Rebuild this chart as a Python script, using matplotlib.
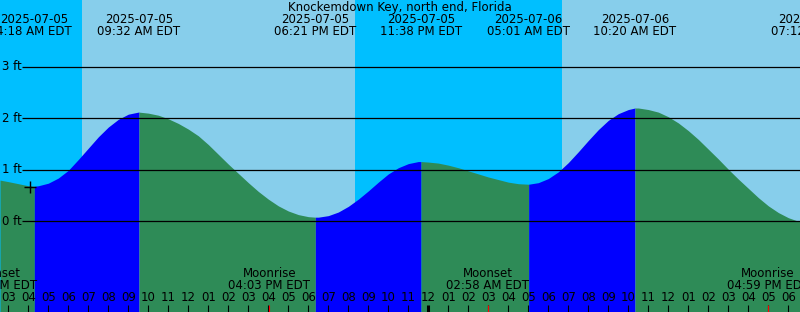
import matplotlib
matplotlib.use("Agg")
import matplotlib.pyplot as plt
import pandas as pd
import numpy as np

# ---------------- data ----------------
title = "Knockemdown Key, north end, Florida"

event_times = ["2025-07-05 04:18", "2025-07-05 09:32", "2025-07-05 18:21",
               "2025-07-05 23:38", "2025-07-06 05:01", "2025-07-06 10:20",
               "2025-07-06 19:12"]
event_heights = [0.68, 2.12, 0.08, 1.16, 0.72, 2.20, -0.03]
event_labels_time = ["4:18 AM EDT", "09:32 AM EDT", "06:21 PM EDT", "11:38 PM EDT",
                     "05:01 AM EDT", "10:20 AM EDT", "07:12 PM EDT"]
event_is_high = [False, True, False, True, False, True, False]

# water level every 30 minutes, 2025-07-05 03:00 .. 2025-07-06 18:00
curve_start = "2025-07-05 03:00"
curve_end = "2025-07-06 18:00"
curve_heights = [0.77, 0.73, 0.69, 0.69, 0.74, 0.84, 0.99, 1.20, 1.42, 1.64,
                 1.83, 1.98, 2.08, 2.12, 2.10, 2.06, 1.99, 1.90, 1.79, 1.66,
                 1.49, 1.30, 1.11, 0.93, 0.75, 0.58, 0.43, 0.30, 0.20, 0.13,
                 0.09, 0.08, 0.11, 0.18, 0.29, 0.43, 0.59, 0.76, 0.92, 1.04,
                 1.12, 1.16, 1.15, 1.13, 1.09, 1.04, 0.98, 0.92, 0.86, 0.81,
                 0.76, 0.73, 0.72, 0.75, 0.83, 0.96, 1.14, 1.35, 1.57, 1.78,
                 1.96, 2.09, 2.17, 2.20, 2.17, 2.12, 2.03, 1.91, 1.76, 1.59,
                 1.40, 1.21, 1.01, 0.82, 0.64, 0.46, 0.30, 0.17, 0.07]
edge_times = ["2025-07-05 02:35", "2025-07-06 18:35"]
edge_heights = [0.80, -0.01]

sun_events = ["2025-07-05 06:40", "2025-07-05 20:20", "2025-07-06 06:41", "2025-07-06 20:20"]  # rise, set, rise, set

moon_times = ["2025-07-05 02:23", "2025-07-05 16:03", "2025-07-06 02:58", "2025-07-06 16:59"]
moon_labels = ["Moonset", "Moonrise", "Moonset", "Moonrise"]
moon_time_labels = ["02:23 AM EDT", "04:03 PM EDT", "02:58 AM EDT", "04:59 PM EDT"]

mark_time = "2025-07-05 04:05"
mark_level = 0.67

y_levels = [0, 1, 2, 3]
start_view = "2025-07-05 02:35"
end_view = "2025-07-06 18:35"

# ---------------- helpers ----------------
base = pd.Timestamp("2025-07-05 00:00")
def hrs(s):
    return (pd.Timestamp(s) - base) / pd.Timedelta(hours=1)

W, H = 800, 312
fig = plt.figure(figsize=(W / 100, H / 100), dpi=100)
ax = fig.add_axes([0, 0, 1, 1])
ax.set_axis_off()

x0 = hrs(start_view)
x1 = hrs(end_view)
ax.set_xlim(x0, x1)
px_per_ft = 51.5
zero_px = 221.3
ax.set_ylim((zero_px - H) / px_per_ft, zero_px / px_per_ft)
ybot = (zero_px - H) / px_per_ft

def ay(ypx):  # pixel from top -> axes fraction
    return 1 - ypx / H

xt = ax.get_xaxis_transform()
FS = 8.5
DAY = "#87CEEB"
NIGHT = "#00BFFF"
FLOOD = "#0000FF"
EBB = "#2E8B57"

# sky
sun_h = [hrs(s) for s in sun_events]
edges = [x0 - 1] + sun_h + [x1 + 1]
for i in range(len(edges) - 1):
    col = NIGHT if i % 2 == 0 else DAY
    ax.axvspan(edges[i], edges[i + 1], color=col, lw=0, zorder=0)

# tide curve
grid_times = pd.date_range(curve_start, curve_end, freq="30min")
ct = [hrs(t) for t in grid_times] + [hrs(t) for t in edge_times]
et = [hrs(t) for t in event_times]
allt = np.array(ct + et)
allh = np.array(curve_heights + edge_heights + event_heights)
order = np.argsort(allt, kind="stable")
allt = allt[order]
allh = allh[order]

bounds = [x0 - 1] + et + [x1 + 1]
for i in range(len(bounds) - 1):
    a, b = bounds[i], bounds[i + 1]
    m = (allt >= a) & (allt <= b)
    if m.sum() < 2:
        continue
    if i < len(et):
        rising = event_is_high[i]
    else:
        rising = not event_is_high[-1]
    ax.fill_between(allt[m], allh[m], ybot, color=FLOOD if rising else EBB,
                    lw=0, zorder=1, antialiased=True)

# grid lines and y labels
gx = x0 + 21.7 / 20
for lv in y_levels:
    ax.hlines(lv, gx, x1 + 1, color="black", lw=0.9, zorder=3)
    ax.text(x0 + 2.5 / 20, lv, f"{lv} ft", fontsize=FS, ha="left", va="center",
            color="black", zorder=4)

# title
ax.text(0.5, ay(7.3), title, transform=ax.transAxes, fontsize=FS, ha="center",
        va="center", color="black", zorder=5)

# tide event labels
for t, lab in zip(event_times, event_labels_time):
    x = hrs(t)
    ax.text(x, ay(19.6), pd.Timestamp(t).strftime("%Y-%m-%d"), transform=xt,
            fontsize=FS, ha="center", va="center", zorder=5)
    ax.text(x, ay(31.8), lab, transform=xt, fontsize=FS, ha="center", va="center", zorder=5)

# mark
ax.plot([hrs(mark_time)], [mark_level], marker="+", color="black", ms=9, mew=1.0, zorder=6)

# hour ticks and labels
first = int(np.ceil(x0))
for h in range(first, int(np.floor(x1)) + 1):
    hh = h % 24
    lab = f"{(hh % 12) or 12:02d}"
    ax.text(h, ay(297.6), lab, transform=xt, fontsize=FS, ha="center", va="center", zorder=5)
    lw = 2.2 if hh == 0 else 0.8
    ax.vlines(h, ay(312), ay(304.5), transform=xt, color="black", lw=lw, zorder=5)

# moon events
for t, l1, l2 in zip(moon_times, moon_labels, moon_time_labels):
    x = hrs(t)
    ax.text(x, ay(273.8), l1, transform=xt, fontsize=FS, ha="center", va="center", zorder=5)
    ax.text(x, ay(285.6), l2, transform=xt, fontsize=FS, ha="center", va="center", zorder=5)
    ax.vlines(x, ay(312), ay(304.5), transform=xt, color="red", lw=0.8, zorder=6)

fig.savefig("out.png", dpi=100)
